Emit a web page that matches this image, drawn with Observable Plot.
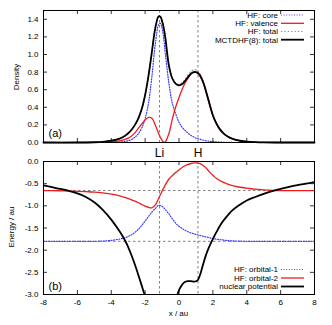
<!DOCTYPE html>
<html><head><meta charset="utf-8">
<script src="https://cdn.jsdelivr.net/npm/d3@7"></script>
<script src="https://cdn.jsdelivr.net/npm/@observablehq/plot@0.6"></script>
<style>
body{margin:0;background:#fff;}
#chart{position:relative;width:332px;height:325px;overflow:hidden;}
#chart svg{position:absolute;left:0;}
</style></head><body><div id="chart"></div>
<script>
// ---- tick labels / categories ----
const xTicks = [-8, -6, -4, -2, 0, 2, 4, 6, 8];
const densityTicks = [0, 0.2, 0.4, 0.6, 0.8, 1.0, 1.2, 1.4];
const energyTicks = [0, -0.5, -1, -1.5, -2, -2.5, -3];
const atomNames = ["Li", "H"];
const atomX = [-1.15, 1.12];
const orbitalEnergies = [-0.655, -1.80];

// ---- panel (a): densities ----
const xDensity = [-8,-6,-5,-4.5,-4,-3.5,-3.2,-3,-2.8,-2.6,-2.4,-2.2,-2,-1.8,-1.6,-1.4,-1.2,-1.1,-1,-0.9,-0.8,-0.6,-0.4,-0.2,0,0.2,0.4,0.6,0.8,1,1.2,1.4,1.6,1.8,2,2.2,2.4,2.6,2.8,3,3.3,3.6,4,4.5,5,6,8];
const hfCore = [0,0,0,0,0.001,0.005,0.012,0.02,0.035,0.06,0.1,0.165,0.27,0.45,0.75,1.12,1.34,1.355,1.30,1.18,1.0,0.68,0.45,0.33,0.23,0.17,0.13,0.095,0.07,0.05,0.038,0.028,0.02,0.014,0.01,0.007,0.005,0.003,0.002,0.001,0,0,0,0,0,0,0];
const hfValence = [0,0,0.001,0.003,0.007,0.018,0.035,0.05,0.075,0.11,0.16,0.21,0.255,0.285,0.275,0.2,0.1,0.06,0.025,0.003,0.01,0.1,0.26,0.40,0.51,0.61,0.69,0.75,0.79,0.80,0.765,0.69,0.57,0.435,0.305,0.215,0.15,0.107,0.076,0.054,0.032,0.02,0.01,0.004,0.001,0,0];
const hfTotal = [0,0,0.003,0.008,0.02,0.045,0.075,0.105,0.145,0.2,0.275,0.38,0.54,0.76,1.03,1.3,1.435,1.43,1.38,1.3,1.18,0.88,0.735,0.675,0.66,0.68,0.73,0.785,0.82,0.825,0.79,0.71,0.585,0.445,0.31,0.22,0.155,0.11,0.078,0.055,0.033,0.02,0.01,0.004,0.001,0,0];
const mctdhfTotal = [0,0,0.003,0.008,0.02,0.045,0.075,0.105,0.145,0.2,0.275,0.38,0.54,0.76,1.03,1.3,1.435,1.43,1.38,1.3,1.18,0.88,0.73,0.67,0.65,0.665,0.71,0.76,0.795,0.80,0.775,0.70,0.58,0.44,0.31,0.22,0.155,0.11,0.078,0.055,0.033,0.02,0.01,0.004,0.001,0,0];

// ---- panel (b): energies ----
const xEnergy = [-8,-7.5,-7,-6.5,-6,-5.5,-5,-4.5,-4,-3.5,-3.2,-3,-2.8,-2.6,-2.4,-2.2,-2,-1.8,-1.6,-1.4,-1.2,-1,-0.8,-0.6,-0.4,-0.2,-0.1,0,0.1,0.2,0.35,0.5,0.7,0.9,1.1,1.25,1.4,1.6,1.8,2,2.2,2.5,2.8,3.1,3.5,4,4.5,5,5.5,6,6.5,7,7.5,8];
const hfOrbital1 = [-1.80,-1.80,-1.80,-1.80,-1.80,-1.80,-1.80,-1.795,-1.78,-1.75,-1.72,-1.69,-1.65,-1.60,-1.53,-1.44,-1.34,-1.24,-1.14,-1.06,-0.99,-1.01,-1.09,-1.18,-1.29,-1.39,-1.43,-1.46,-1.49,-1.515,-1.55,-1.58,-1.61,-1.635,-1.655,-1.67,-1.685,-1.70,-1.72,-1.735,-1.75,-1.765,-1.78,-1.79,-1.795,-1.80,-1.80,-1.80,-1.80,-1.80,-1.80,-1.80,-1.80,-1.80];
const hfOrbital2 = [-0.655,-0.657,-0.66,-0.665,-0.672,-0.68,-0.69,-0.71,-0.735,-0.775,-0.81,-0.835,-0.865,-0.895,-0.93,-0.97,-1.005,-1.035,-1.045,-0.98,-0.83,-0.67,-0.52,-0.40,-0.32,-0.25,-0.22,-0.19,-0.16,-0.13,-0.095,-0.07,-0.045,-0.032,-0.035,-0.05,-0.085,-0.15,-0.235,-0.31,-0.38,-0.45,-0.50,-0.54,-0.575,-0.60,-0.625,-0.64,-0.65,-0.655,-0.655,-0.655,-0.655,-0.655];
const nuclearPotential = [-0.54,-0.58,-0.62,-0.665,-0.72,-0.80,-0.92,-1.09,-1.31,-1.58,-1.77,-1.93,-2.12,-2.33,-2.56,-2.80,-3.05,null,null,null,null,null,null,null,null,null,-3.02,-2.90,-2.83,-2.77,-2.72,-2.70,-2.70,-2.71,-2.68,-2.55,-2.35,-2.10,-1.91,-1.75,-1.60,-1.40,-1.25,-1.12,-1.00,-0.88,-0.80,-0.73,-0.67,-0.62,-0.575,-0.535,-0.50,-0.465];

const densityRows = xDensity.map((x, i) => ({x, core: hfCore[i], valence: hfValence[i], total: hfTotal[i], mctdhf: mctdhfTotal[i]}));
const energyRows = xEnergy.map((x, i) => ({x, orb1: hfOrbital1[i], orb2: hfOrbital2[i], pot: nuclearPotential[i]}));
const atoms = atomNames.map((name, i) => ({name, x: atomX[i]}));

const FONT = "'Liberation Sans', Arial, Helvetica, sans-serif";
const W = 332, ML = 43, MR = 18;
const BLUE = "#3a3aff", RED = "#f01c1c", GREY = "#8a8a8a", DASH = "#606060";
const DOT = "1 1.6";
const curve = "catmull-rom";

function frameTicks(yTicks, frameW, frameH) {
  return [
    Plot.tickX(xTicks, {x: d => d, insetTop: frameH - 4, stroke: "black", strokeWidth: 0.8}),
    Plot.tickX(xTicks, {x: d => d, insetBottom: frameH - 4, stroke: "black", strokeWidth: 0.8}),
    Plot.tickY(yTicks, {y: d => d, insetRight: frameW - 4, stroke: "black", strokeWidth: 0.8}),
    Plot.tickY(yTicks, {y: d => d, insetLeft: frameW - 4, stroke: "black", strokeWidth: 0.8})
  ];
}

function legend(items, offsets, fromBottom) {
  return (index, scales, values, dim) => {
    const g = d3.create("svg:g").attr("font-family", FONT).attr("font-size", 8).attr("fill", "black");
    const xr = dim.width - dim.marginRight;
    const base = fromBottom ? dim.height - dim.marginBottom : dim.marginTop;
    items.forEach((it, i) => {
      const y = base + offsets[i];
      g.append("text").attr("x", xr - 36).attr("y", y).attr("dy", "0.35em").attr("text-anchor", "end").text(it.label);
      g.append("line").attr("x1", xr - 33).attr("x2", xr - 10).attr("y1", y).attr("y2", y)
        .attr("stroke", it.stroke).attr("stroke-width", it.width).attr("stroke-dasharray", it.dash || null);
    });
    return g.node();
  };
}

function rotLabel(text, x, yFn) {
  return (index, scales, values, dim) => {
    const t = d3.create("svg:text").attr("font-family", FONT).attr("font-size", 8).attr("fill", "black")
      .attr("text-anchor", "middle").attr("dy", "0.35em")
      .attr("transform", `translate(${x},${yFn(dim)}) rotate(-90)`).text(text);
    return t.node();
  };
}

const plotA = Plot.plot({
  width: W, height: 143, marginLeft: ML, marginRight: MR, marginTop: 10, marginBottom: 1,
  style: {fontFamily: FONT, fontSize: "8px", background: "transparent", color: "black", overflow: "visible"},
  x: {domain: [-8, 8], axis: null},
  y: {domain: [0, 1.5], label: null},
  marks: [
    Plot.ruleX(atomX, {x: d => d, stroke: DASH, strokeDasharray: "2.5 2.5", strokeWidth: 0.8}),
    Plot.line(densityRows, {x: "x", y: "total", stroke: GREY, strokeDasharray: "1.2 2.2", strokeWidth: 1.1, curve}),
    Plot.line(densityRows, {x: "x", y: "core", stroke: BLUE, strokeDasharray: DOT, strokeWidth: 1.2, curve}),
    Plot.line(densityRows, {x: "x", y: "valence", stroke: RED, strokeWidth: 1.3, curve}),
    Plot.line(densityRows, {x: "x", y: "mctdhf", stroke: "black", strokeWidth: 1.8, curve}),
    Plot.frame({stroke: "black", strokeWidth: 1}),
    ...frameTicks(densityTicks, 271, 132),
    Plot.axisY(densityTicks, {tickSize: 0, tickPadding: 5, tickFormat: d => d.toFixed(1), label: null}),
    Plot.text(["(a)"], {text: d => d, frameAnchor: "bottom-left", dx: 5, dy: -9, fontSize: 11, textAnchor: "start", lineAnchor: "middle"}),
    legend([
      {label: "HF: core", stroke: BLUE, width: 1.2, dash: DOT},
      {label: "HF: valence", stroke: RED, width: 1.3},
      {label: "HF: total", stroke: GREY, width: 1.1, dash: "1.2 2.2"},
      {label: "MCTDHF(8): total", stroke: "black", width: 1.8}
    ], [5, 13.3, 21.5, 29.7], false),
    rotLabel("Density", 16, () => 77)
  ]
});

const plotB = Plot.plot({
  width: W, height: 182, marginLeft: ML, marginRight: MR, marginTop: 18, marginBottom: 31,
  style: {fontFamily: FONT, fontSize: "8px", background: "transparent", color: "black"},
  x: {domain: [-8, 8], label: null},
  y: {domain: [-3, 0], label: null},
  marks: [
    Plot.ruleX(atomX, {x: d => d, stroke: DASH, strokeDasharray: "2.5 2.5", strokeWidth: 0.8}),
    Plot.ruleY(orbitalEnergies, {y: d => d, stroke: DASH, strokeDasharray: "2.5 2.5", strokeWidth: 0.8}),
    Plot.line(energyRows, {x: "x", y: "orb1", stroke: BLUE, strokeDasharray: DOT, strokeWidth: 1.2, curve}),
    Plot.line(energyRows, {x: "x", y: "orb2", stroke: RED, strokeWidth: 1.3, curve}),
    Plot.line(energyRows, {x: "x", y: "pot", stroke: "black", strokeWidth: 1.8, curve, clip: true}),
    Plot.frame({stroke: "black", strokeWidth: 1}),
    ...frameTicks(energyTicks, 271, 133),
    Plot.axisY(energyTicks, {tickSize: 0, tickPadding: 5, tickFormat: d => d.toFixed(1), label: null}),
    Plot.axisX(xTicks, {tickSize: 0, tickPadding: 5, tickFormat: d => String(d), label: null}),
    Plot.text(atoms, {x: "x", text: "name", frameAnchor: "top", dy: -8.5, fontSize: 12, lineAnchor: "middle"}),
    Plot.text(["(b)"], {text: d => d, frameAnchor: "bottom-left", dx: 5, dy: -8.5, fontSize: 11, textAnchor: "start", lineAnchor: "middle"}),
    legend([
      {label: "HF: orbital-1", stroke: BLUE, width: 1.2, dash: DOT},
      {label: "HF: orbital-2", stroke: RED, width: 1.3},
      {label: "nuclear potential", stroke: "black", width: 1.8}
    ], [-24.5, -16, -7.5], true),
    rotLabel("Energy / au", 11, () => 84),
    (index, scales, values, dim) => d3.create("svg:text").attr("font-family", FONT).attr("font-size", 8)
      .attr("fill", "black").attr("text-anchor", "middle").attr("dy", "0.35em")
      .attr("x", dim.marginLeft + (dim.width - dim.marginLeft - dim.marginRight) / 2)
      .attr("y", dim.height - 12).text("x / au").node()
  ]
});

plotA.style.top = "0px";
plotA.style.zIndex = "2";
plotB.style.top = "143px";
document.getElementById("chart").append(plotB, plotA);
</script>
</body></html>
